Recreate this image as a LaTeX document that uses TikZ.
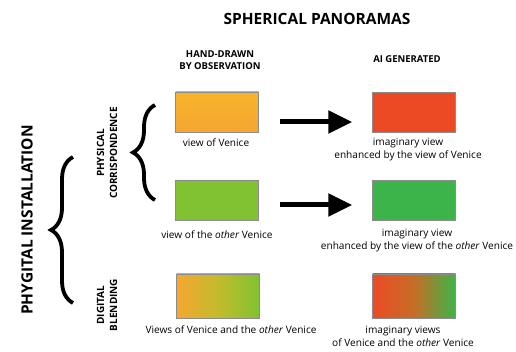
\documentclass[tikz,border=0pt]{standalone}
\usepackage{fontspec}
\setmainfont{Open Sans}
\usepackage{xcolor}
\usepackage{tikz}
\usetikzlibrary{arrows.meta}
\usetikzlibrary{decorations.pathreplacing}
\definecolor{vorange}{HTML}{F6A631}
\definecolor{vred}{HTML}{EC4A25}
\definecolor{vlgreen}{HTML}{80C231}
\definecolor{vgreen}{HTML}{3CB449}
\tikzset{every picture/.style={line width=0.75pt}}
\tikzset{
  head/.style={font=\bfseries\fontsize{9.5}{11.5}\selectfont, align=center, inner sep=0pt},
  side/.style={font=\bfseries\fontsize{10}{13}\selectfont, align=center, inner sep=0pt, rotate=90},
  caption/.style={font=\fontsize{10.1}{13}\selectfont, align=center, inner sep=0pt},
  view/.style={draw=black!45, line width=0.4pt, minimum width=83pt, minimum height=40pt, inner sep=0pt},
  bigarrow/.style={line width=5pt, -{Triangle[length=24pt,width=22pt]}, shorten <=21pt, shorten >=20pt},
  curly/.style={decorate, decoration={brace, amplitude=22pt}, line width=3.8pt}
}

\begin{document}
\begin{tikzpicture}[x=1pt,y=-1pt]
\useasboundingbox (0,0) rectangle (516,352);
\node[head, font=\bfseries\fontsize{15.5}{17}\selectfont] (t) at (317,19) {SPHERICAL PANORAMAS};
\node[head] (h1) at (220,60) {HAND-DRAWN\\BY OBSERVATION};
\node[head] (h2) at (407,59) {AI GENERATED};

\node[view, top color=vorange!85!yellow, bottom color=vorange] (1) at (217,112) {};
\node[view, fill=vred] (2) at (414,112) {};
\node[view, fill=vlgreen] (3) at (217,200) {};
\node[view, fill=vgreen] (4) at (414,200) {};
\node[view, minimum height=44pt, left color=vorange, right color=vlgreen, middle color=vorange!50!vlgreen!90!yellow] (5) at (218,296) {};
\node[view, minimum height=44pt, left color=vred, right color=vgreen, middle color=vred!70!vgreen!80!orange] (6) at (414,296) {};

\draw[bigarrow] ([yshift=-10pt]1.east) -- ([yshift=-10pt]2.west);
\draw[bigarrow] ([yshift=-5pt]3.east) -- ([yshift=-5pt]4.west);

\node[caption] (c1) at (216,143) {view of Venice};
\node[caption] (c2) at (408,150) {imaginary view\\enhanced by the view of Venice};
\node[caption] (c3) at (217,235) {view of the \textit{other} Venice};
\node[caption] (c4) at (417,241) {imaginary view\\enhanced by the view of the \textit{other} Venice};
\node[caption] (c5) at (231,330) {Views of Venice and the \textit{other} Venice};
\node[caption] (c6) at (403,336) {imaginary views\\of Venice and the \textit{other} Venice};

\node[side, font=\bfseries\fontsize{15.5}{17}\selectfont] (p) at (27,220) {PHYGITAL INSTALLATION};
\node[side] (pc) at (107,153) {PHYSICAL\\CORRISPONDENCE};
\node[side] (db) at (107,305) {DIGITAL\\BLENDING};

\coordinate (b1) at (155,200);
\coordinate (b2) at (155,105);
\coordinate (b3) at (73,303);
\coordinate (b4) at (73,157);
\draw[curly] (b1) -- (b2);
\draw[curly] (b3) -- (b4);
\end{tikzpicture}
\end{document}
